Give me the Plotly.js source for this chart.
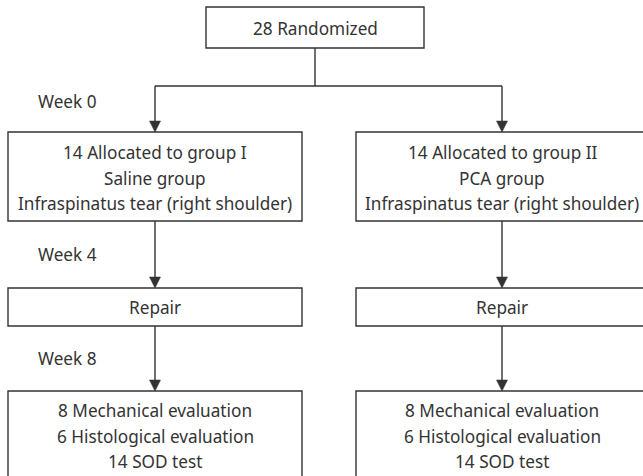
<!DOCTYPE html>
<html>
<head>
<meta charset="utf-8">
<script src="https://cdn.plot.ly/plotly-3.0.1.min.js"></script>
<style>html,body{margin:0;padding:0;background:#fff;}#chart{width:643px;height:476px;}</style>
</head>
<body>
<div id="chart"></div>
<script>
// ---- content ----
const topLines = ["28 Randomized"];
const group1Lines = ["14 Allocated to group I", "Saline group", "Infraspinatus tear (right shoulder)"];
const group2Lines = ["14 Allocated to group II", "PCA group", "Infraspinatus tear (right shoulder)"];
const repairLines = ["Repair"];
const outcomeLines = ["8 Mechanical evaluation", "6 Histological evaluation", "14 SOD test"];
const weekLabels = ["Week 0", "Week 4", "Week 8"];

// ---- geometry (pixel space, y down) ----
const W = 643, H = 476;
const colL = 155, colR = 502;
const boxes = [
  {x0: 206, x1: 424, y0: 7,   y1: 48,  lines: topLines,     firstY: 28.5},
  {x0: 8,   x1: 302, y0: 132, y1: 221, lines: group1Lines,  firstY: 152.5},
  {x0: 356, x1: 648, y0: 132, y1: 221, lines: group2Lines,  firstY: 152.5},
  {x0: 8,   x1: 302, y0: 288, y1: 326, lines: repairLines,  firstY: 307},
  {x0: 356, x1: 648, y0: 288, y1: 326, lines: repairLines,  firstY: 307},
  {x0: 8,   x1: 302, y0: 391, y1: 480, lines: outcomeLines, firstY: 410.5},
  {x0: 356, x1: 648, y0: 391, y1: 480, lines: outcomeLines, firstY: 410.5}
];
const lineGap = 25.5;
const weekPos = [{x: 36, y: 101.5}, {x: 36, y: 254.5}, {x: 36, y: 358.5}];
const ink = '#333333';
const fontFam = '"Noto Sans", "Open Sans", sans-serif';
const fontSize = 17.2;

const shapes = [];
const annotations = [];

boxes.forEach(b => {
  shapes.push({type: 'rect', xref: 'x', yref: 'y', x0: b.x0, x1: b.x1, y0: b.y0, y1: b.y1,
    line: {color: ink, width: 1.4}, fillcolor: 'rgba(0,0,0,0)'});
  b.lines.forEach((t, i) => {
    annotations.push({xref: 'x', yref: 'y', x: (b.x0 + b.x1) / 2, y: b.firstY + i * lineGap,
      text: t, showarrow: false, xanchor: 'center', yanchor: 'middle',
      font: {family: fontFam, size: fontSize, color: ink}});
  });
});

weekLabels.forEach((t, i) => {
  annotations.push({xref: 'x', yref: 'y', x: weekPos[i].x, y: weekPos[i].y, text: t, showarrow: false,
    xanchor: 'left', yanchor: 'middle', font: {family: fontFam, size: fontSize, color: ink}});
});

function seg(x0, y0, x1, y1) {
  shapes.push({type: 'line', xref: 'x', yref: 'y', x0, y0, x1, y1, line: {color: ink, width: 1.4}});
}
function arrow(x, y0, yTip) {
  const hh = 11, hw = 5.5;
  seg(x, y0, x, yTip - hh + 1);
  shapes.push({type: 'path', xref: 'x', yref: 'y',
    path: `M ${x - hw} ${yTip - hh} L ${x + hw} ${yTip - hh} L ${x} ${yTip} Z`,
    fillcolor: ink, line: {color: ink, width: 0.5}});
}

// top stem and split
seg(315, 48, 315, 86);
seg(colL, 86, colR, 86);
[colL, colR].forEach(x => {
  arrow(x, 86, 132);
  arrow(x, 221, 288);
  arrow(x, 326, 391);
});

const layout = {
  width: W, height: H,
  margin: {l: 0, r: 0, t: 0, b: 0},
  paper_bgcolor: '#ffffff', plot_bgcolor: '#ffffff',
  xaxis: {range: [0, W], visible: false, fixedrange: true},
  yaxis: {range: [H, 0], visible: false, fixedrange: true},
  showlegend: false,
  shapes, annotations
};

Plotly.newPlot('chart', [{x: [], y: [], type: 'scatter'}], layout, {displayModeBar: false, staticPlot: true});
</script>
</body>
</html>
